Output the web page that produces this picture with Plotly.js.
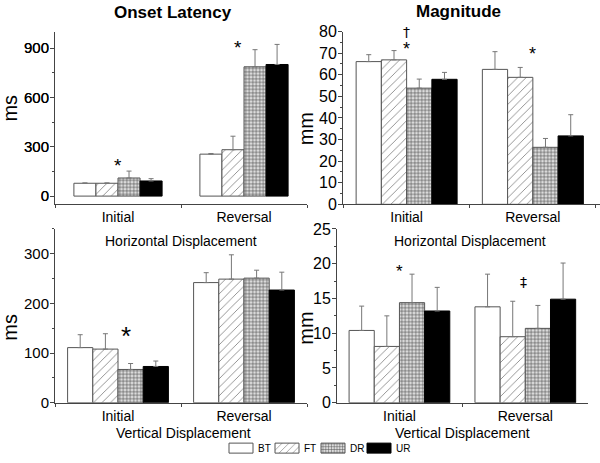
<!DOCTYPE html>
<html><head><meta charset="utf-8">
<script src="https://cdn.plot.ly/plotly-3.0.1.min.js"></script>
<style>html,body{margin:0;padding:0;background:#fff}#chart{width:600px;height:463px}</style>
</head><body><div id="chart"></div>
<script>
// ---------- data ----------
const categories = ['Initial', 'Reversal'];
const groups = ['BT', 'FT', 'DR', 'UR'];

// Onset latency, horizontal displacement (ms): mean and upper error
const onsetH_BT = [78, 255];   const onsetH_BT_err = [2, 4];
const onsetH_FT = [78, 282];   const onsetH_FT_err = [2, 82];
const onsetH_DR = [110, 786];  const onsetH_DR_err = [42, 104];
const onsetH_UR = [92, 800];   const onsetH_UR_err = [14, 122];

// Magnitude, horizontal displacement (mm)
const magH_BT = [66.1, 62.5];  const magH_BT_err = [3.2, 8.2];
const magH_FT = [66.9, 58.8];  const magH_FT_err = [4.3, 4.6];
const magH_DR = [53.8, 26.4];  const magH_DR_err = [4.2, 4.1];
const magH_UR = [57.9, 31.7];  const magH_UR_err = [3.2, 9.8];

// Onset latency, vertical displacement (ms)
const onsetV_BT = [111, 242];  const onsetV_BT_err = [26, 20];
const onsetV_FT = [108, 249];  const onsetV_FT_err = [31, 49];
const onsetV_DR = [67, 251];   const onsetV_DR_err = [12, 16];
const onsetV_UR = [73, 227];   const onsetV_UR_err = [11, 36];

// Magnitude, vertical displacement (mm)
const magV_BT = [10.4, 13.8];  const magV_BT_err = [3.5, 4.7];
const magV_FT = [8.1, 9.5];    const magV_FT_err = [4.4, 5.1];
const magV_DR = [14.4, 10.7];  const magV_DR_err = [4.1, 3.3];
const magV_UR = [13.2, 14.9];  const magV_UR_err = [3.4, 5.2];

// tick values
const onsetHTicks = [0, 300, 600, 900];
const magHTicks = [0, 10, 20, 30, 40, 50, 60, 70, 80];
const onsetVTicks = [0, 100, 200, 300];
const magVTicks = [0, 5, 10, 15, 20, 25];

// ---------- styles ----------
const FONT = 'Arial, "Liberation Sans", sans-serif';
const OUT = '#555';
const markerStyles = {
  BT: {color: '#ffffff', line: {color: OUT, width: 1}},
  FT: {color: '#ffffff', line: {color: OUT, width: 1},
       pattern: {shape: '/', fgcolor: '#8a8a8a', bgcolor: '#ffffff', size: 6, solidity: 0.15}},
  DR: {color: '#d8d8d8', line: {color: OUT, width: 1},
       pattern: {shape: '+', fgcolor: '#4a4a4a', bgcolor: '#dcdcdc', size: 3.5, solidity: 0.3}},
  UR: {color: '#000000', line: {color: '#000', width: 1}}
};

const panels = [
  {ax: '', series: [[onsetH_BT, onsetH_BT_err], [onsetH_FT, onsetH_FT_err], [onsetH_DR, onsetH_DR_err], [onsetH_UR, onsetH_UR_err]], gw: 0.70, legend: true},
  {ax: '2', series: [[magH_BT, magH_BT_err], [magH_FT, magH_FT_err], [magH_DR, magH_DR_err], [magH_UR, magH_UR_err]], gw: 0.80},
  {ax: '3', series: [[onsetV_BT, onsetV_BT_err], [onsetV_FT, onsetV_FT_err], [onsetV_DR, onsetV_DR_err], [onsetV_UR, onsetV_UR_err]], gw: 0.80},
  {ax: '4', series: [[magV_BT, magV_BT_err], [magV_FT, magV_FT_err], [magV_DR, magV_DR_err], [magV_UR, magV_UR_err]], gw: 0.80}
];

const traces = [];
panels.forEach(p => {
  const w = p.gw / groups.length;
  p.series.forEach((s, i) => {
    const g = groups[i];
    traces.push({
      type: 'bar', name: g, x: categories, y: s[0],
      xaxis: 'x' + p.ax, yaxis: 'y' + p.ax,
      width: w, offset: -p.gw / 2 + i * w,
      marker: markerStyles[g],
      error_y: {type: 'data', symmetric: false, array: s[1], arrayminus: s[1].map(() => 0),
                color: '#777', thickness: 1, width: 2.5},
      showlegend: !!p.legend, legendgroup: g
    });
  });
});

const W = 600, H = 463;
const px = v => v / W, py = v => 1 - v / H;

function xax(domain, range, anchor) {
  return {domain: domain, range: range, anchor: anchor, type: 'category', showline: true, linecolor: '#444', linewidth: 1,
          ticks: 'outside', tickson: 'boundaries', ticklen: 3, tickcolor: '#444',
          tickfont: {family: FONT, size: 14, color: '#000'}, showgrid: false, zeroline: false, fixedrange: true};
}
function yax(domain, range, anchor, vals, minor, fs) {
  return {domain: domain, range: range, anchor: anchor, showline: true, linecolor: '#444', linewidth: 1,
          ticks: 'outside', ticklen: 4, tickcolor: '#444', tickmode: 'array', tickvals: vals,
          ticktext: vals.map(String), ticklabelstandoff: -2,
          minor: {ticks: 'outside', ticklen: 2, dtick: minor, tick0: 0, tickcolor: '#444', showgrid: false},
          tickfont: {family: FONT, size: fs, color: '#000'}, showgrid: false, zeroline: false, fixedrange: true};
}

const yTop = [py(207), py(32)];
const yBot = [py(408), py(232)];

const ann = (text, x, y, size, extra) => Object.assign({text: text, x: x, y: y, xref: 'paper', yref: 'paper',
  showarrow: false, xanchor: 'center', yanchor: 'middle', font: {family: FONT, size: size, color: '#000'}}, extra || {});
const sig = (text, xr, yr, x, y, size, fam) => ({text: text, x: x, y: y, xref: xr, yref: yr, showarrow: false,
  xanchor: 'center', yanchor: 'middle', font: {family: fam || FONT, size: size, color: '#000000'}});

const layout = {
  width: W, height: H, autosize: false,
  margin: {l: 0, r: 0, t: 0, b: 0},
  paper_bgcolor: '#fff', plot_bgcolor: 'rgba(0,0,0,0)',
  barmode: 'overlay',
  font: {family: FONT, color: '#000'},
  xaxis: xax([px(55), px(307)], [-0.5, 1.5], 'y'),
  yaxis: yax(yTop, [-50, 1000], 'x', onsetHTicks, 150, 15),
  xaxis2: xax([px(343), 1], [-0.504, 1.532], 'y2'),
  yaxis2: yax(yTop, [0, 80], 'x2', magHTicks, 5, 16),
  xaxis3: xax([px(55), px(307)], [-0.5, 1.5], 'y3'),
  yaxis3: yax(yBot, [0, 350], 'x3', onsetVTicks, 50, 15),
  xaxis4: xax([px(337), px(588)], [-0.496, 1.498], 'y4'),
  yaxis4: yax(yBot, [0, 25], 'x4', magVTicks, 2.5, 16),
  showlegend: true,
  legend: {orientation: 'h', x: px(218), xanchor: 'left', y: py(454), yanchor: 'middle',
           font: {family: FONT, size: 10, color: '#000'}, bgcolor: 'rgba(0,0,0,0)',
           itemwidth: 30, entrywidth: 1, entrywidthmode: 'pixels', tracegroupgap: 0,
           itemclick: false, itemdoubleclick: false},
  annotations: [
    ann('<b>Onset Latency</b>', px(173), py(13), 17),
    ann('<b>Magnitude</b>', px(458), py(12), 17),
    ann('ms', px(10), py(110), 20, {textangle: -90}),
    ann('mm', px(306), py(131), 20, {textangle: -90}),
    ann('ms', px(10), py(332), 20, {textangle: -90}),
    ann('mm', px(306), py(333), 20, {textangle: -90}),
    ann('Horizontal Displacement', px(181), py(244), 14),
    ann('Horizontal Displacement', px(470), py(244), 14),
    ann('Vertical Displacement', px(183), py(439), 14),
    ann('Vertical Displacement', px(463), py(439), 14),
    sig('*', 'x', 'y', 0, 186, 19),
    sig('*', 'x', 'y', 0.95, 903, 19),
    sig('†', 'x2', 'y2', 0, 80, 14, '"DejaVu Sans", sans-serif'),
    sig('*', 'x2', 'y2', 0, 72, 18),
    sig('*', 'x2', 'y2', 1.0, 69.7, 18),
    sig('*', 'x3', 'y3', 0.063, 134, 26),
    sig('*', 'x4', 'y4', 0, 18.9, 17),
    sig('‡', 'x4', 'y4', 0.983, 17.4, 14, '"DejaVu Sans", sans-serif')
  ]
};

Plotly.newPlot('chart', traces, layout, {staticPlot: true, displayModeBar: false}).then(gd => {
  gd.querySelectorAll('.legend .legendpoints path').forEach(p => p.setAttribute('d', 'M15,5H-9V-5H15Z'));
  gd.querySelectorAll('.legend [clip-path]').forEach(el => el.removeAttribute('clip-path'));
  // bring the top-left y-axis tick labels and marks to the top layer so nothing hides them
  const svgs = gd.querySelectorAll('svg.main-svg');
  const top = svgs[svgs.length - 1];
  const layer = document.createElementNS('http://www.w3.org/2000/svg', 'g');
  top.appendChild(layer);
  const lift = el => {
    const m = el.getCTM();
    if (!m) return;
    const c = el.cloneNode(true);
    c.setAttribute('transform', `matrix(${m.a},${m.b},${m.c},${m.d},${m.e},${m.f})`);
    layer.appendChild(c);
  };
  gd.querySelectorAll('g.ytick text').forEach(t => {
    const b = t.getBoundingClientRect();
    if (b.x < 60 && b.y < 220) lift(t);
  });
  gd.querySelectorAll('path.ytick').forEach(t => {
    const b = t.getBoundingClientRect();
    if (b.x < 60 && b.y < 220) lift(t);
  });
});
</script>
</body></html>
